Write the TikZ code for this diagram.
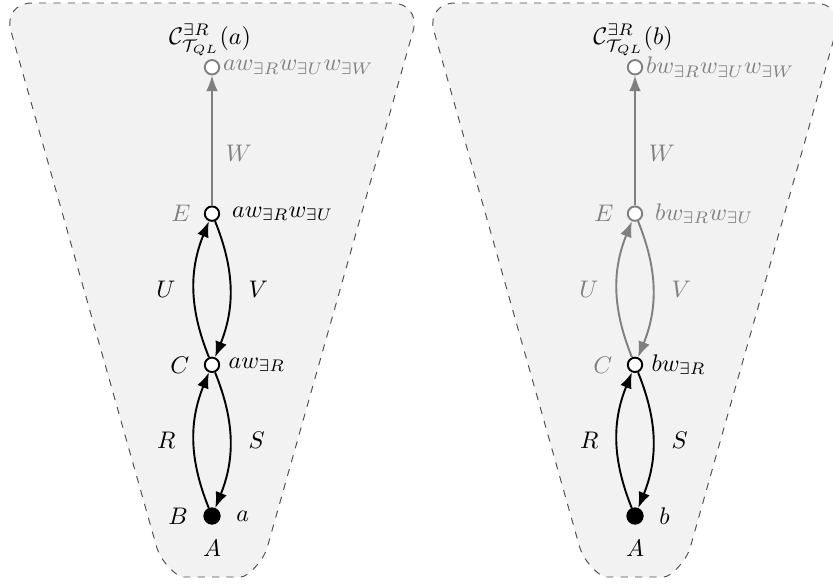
\documentclass[tikz,border=0pt]{standalone}
\usetikzlibrary{arrows.meta,positioning}
\definecolor{cbgray}{RGB}{128,128,128}
\definecolor{cbfill}{RGB}{242,242,242}
\definecolor{cbline}{RGB}{80,80,80}
\tikzset{
  world/.style={circle,draw,thick,fill=white,inner sep=0pt,minimum size=6pt},
  root/.style={circle,draw,fill=black,inner sep=0pt,minimum size=6.8pt},
  cone/.style={draw=cbline,dashed,fill=cbfill,rounded corners=12pt},
  rel/.style={->,thick,bend left=22},
}
\begin{document}
\begin{tikzpicture}[>=Latex,x=0.4167pt,y=-0.4167pt,node distance=63pt,on grid]
  \useasboundingbox (0,0) rectangle (833,586);
  % the two cones
  \path[cone] (212,3) -- (421,3) -- (275,520) .. controls (263.7,560) and (248,577) .. (212,577)
    .. controls (176,577) and (160.3,560) .. (149,520) -- (3,3) -- cycle;
  \path[cone] (635,3) -- (844,3) -- (698,520) .. controls (686.7,560) and (671,577) .. (635,577)
    .. controls (599,577) and (583.3,560) .. (572,520) -- (426,3) -- cycle;

  % left: a
  \node at (210,40) {$\mathcal{C}^{\exists R}_{\mathcal{T}_{QL}}(a)$};
  \node[root,label={[label distance=3pt]left:$B$},label={[label distance=3pt]right:$a$},
    label={[label distance=3pt]below:$A$}] (a0) at (212,516) {};
  \node[world,above=of a0,label={[label distance=2.5pt]left:$C$},
    label={[label distance=0pt]right:$aw_{\exists R}$}] (a1) {};
  \node[world,above=of a1,label={[label distance=2pt,cbgray]left:$E$},
    label={[label distance=1.5pt]right:$aw_{\exists R}w_{\exists U}$}] (a2) {};
  \node[world,draw=cbgray,above=61pt of a2,
    label={[inner sep=1pt,cbgray]right:$aw_{\exists R}w_{\exists U}w_{\exists W}$}] (a3) {};
  \draw[rel] (a0) to node[left=4pt] {$R$} (a1);
  \draw[rel] (a1) to node[right=4pt] {$S$} (a0);
  \draw[rel] (a1) to node[left=4pt] {$U$} (a2);
  \draw[rel] (a2) to node[right=4pt] {$V$} (a1);
  \draw[->,thick,cbgray] (a2) -- node[right=2pt,pos=0.4] {$W$} (a3);

  % right: b
  \node at (633,40) {$\mathcal{C}^{\exists R}_{\mathcal{T}_{QL}}(b)$};
  \node[root,label={[label distance=3pt]right:$b$},
    label={[label distance=3pt]below:$A$}] (b0) at (635,516) {};
  \node[world,above=of b0,label={[label distance=2.5pt,cbgray]left:$C$},
    label={[label distance=0pt]right:$bw_{\exists R}$}] (b1) {};
  \node[world,draw=cbgray,above=of b1,label={[label distance=2pt,cbgray]left:$E$},
    label={[label distance=1.5pt,cbgray]right:$bw_{\exists R}w_{\exists U}$}] (b2) {};
  \node[world,draw=cbgray,above=61pt of b2,
    label={[inner sep=1pt,cbgray]right:$bw_{\exists R}w_{\exists U}w_{\exists W}$}] (b3) {};
  \draw[rel] (b0) to node[left=4pt] {$R$} (b1);
  \draw[rel] (b1) to node[right=4pt] {$S$} (b0);
  \draw[rel,cbgray] (b1) to node[left=4pt] {$U$} (b2);
  \draw[rel,cbgray] (b2) to node[right=4pt] {$V$} (b1);
  \draw[->,thick,cbgray] (b2) -- node[right=2pt,pos=0.4] {$W$} (b3);
\end{tikzpicture}
\end{document}
